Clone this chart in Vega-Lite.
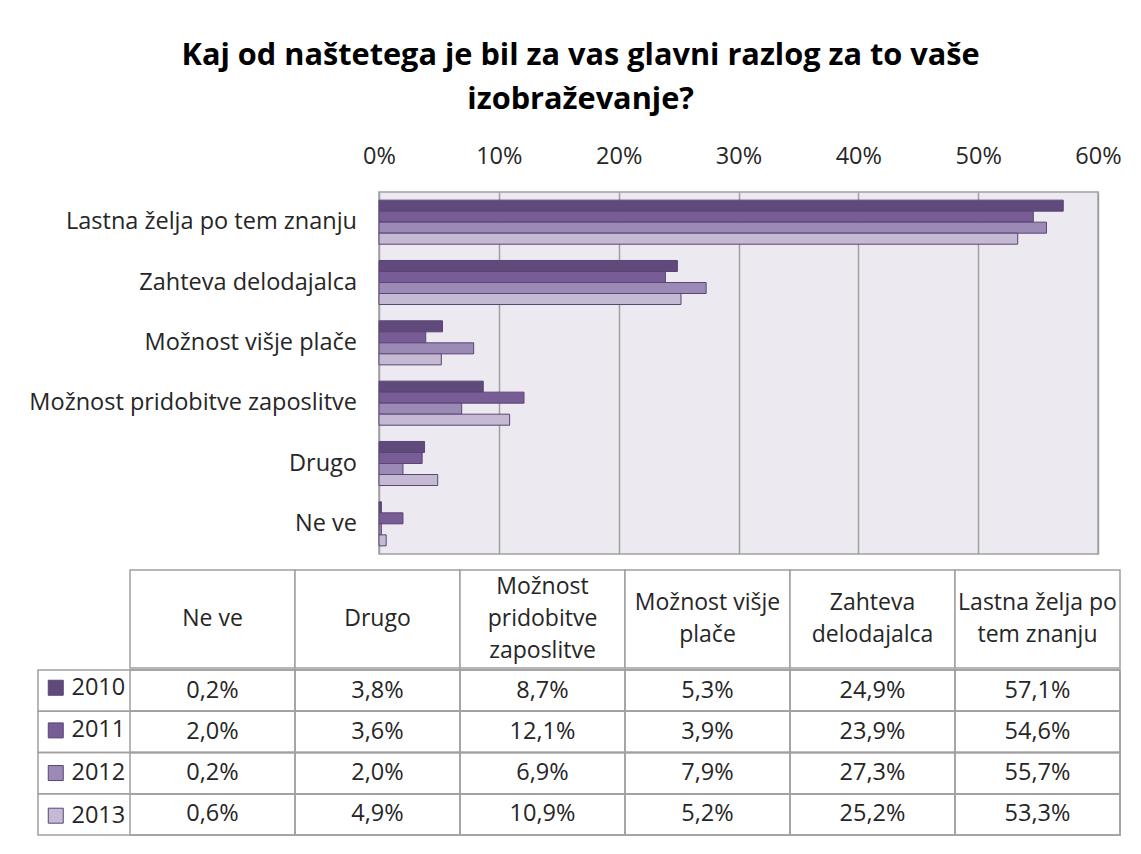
{
  "$schema": "https://vega.github.io/schema/vega-lite/v6.json",
  "background": "white",
  "padding": {"left": 29, "top": 39, "right": 21, "bottom": 21},
  "title": {
    "text": ["Kaj od naštetega je bil za vas glavni razlog za to vaše", "izobraževanje?"],
    "font": "Open Sans",
    "fontSize": 30.7,
    "fontWeight": "bold",
    "color": "#000000",
    "lineHeight": 44,
    "anchor": "middle",
    "offset": 28,
    "dx": 5
  },
  "datasets": {
    "survey": [
      {"category": "Lastna želja po tem znanju", "year": "2010", "value": 0.571},
      {"category": "Lastna želja po tem znanju", "year": "2011", "value": 0.546},
      {"category": "Lastna želja po tem znanju", "year": "2012", "value": 0.557},
      {"category": "Lastna želja po tem znanju", "year": "2013", "value": 0.533},
      {"category": "Zahteva delodajalca", "year": "2010", "value": 0.249},
      {"category": "Zahteva delodajalca", "year": "2011", "value": 0.239},
      {"category": "Zahteva delodajalca", "year": "2012", "value": 0.273},
      {"category": "Zahteva delodajalca", "year": "2013", "value": 0.252},
      {"category": "Možnost višje plače", "year": "2010", "value": 0.053},
      {"category": "Možnost višje plače", "year": "2011", "value": 0.039},
      {"category": "Možnost višje plače", "year": "2012", "value": 0.079},
      {"category": "Možnost višje plače", "year": "2013", "value": 0.052},
      {"category": "Možnost pridobitve zaposlitve", "year": "2010", "value": 0.087},
      {"category": "Možnost pridobitve zaposlitve", "year": "2011", "value": 0.121},
      {"category": "Možnost pridobitve zaposlitve", "year": "2012", "value": 0.069},
      {"category": "Možnost pridobitve zaposlitve", "year": "2013", "value": 0.109},
      {"category": "Drugo", "year": "2010", "value": 0.038},
      {"category": "Drugo", "year": "2011", "value": 0.036},
      {"category": "Drugo", "year": "2012", "value": 0.020},
      {"category": "Drugo", "year": "2013", "value": 0.049},
      {"category": "Ne ve", "year": "2010", "value": 0.002},
      {"category": "Ne ve", "year": "2011", "value": 0.020},
      {"category": "Ne ve", "year": "2012", "value": 0.002},
      {"category": "Ne ve", "year": "2013", "value": 0.006}
    ],
    "headers": [
      {"category": "Ne ve", "header": "Ne ve"},
      {"category": "Drugo", "header": "Drugo"},
      {"category": "Možnost pridobitve zaposlitve", "header": "Možnost\npridobitve\nzaposlitve"},
      {"category": "Možnost višje plače", "header": "Možnost višje\nplače"},
      {"category": "Zahteva delodajalca", "header": "Zahteva\ndelodajalca"},
      {"category": "Lastna želja po tem znanju", "header": "Lastna želja po\ntem znanju"}
    ]
  },
  "spacing": 14,
  "vconcat": [
    {
      "spacing": 0,
      "bounds": "flush",
      "hconcat": [
        {
          "width": 341,
          "height": 362,
          "data": {"name": "survey"},
          "transform": [{"filter": "datum.year == '2010'"}],
          "mark": {"type": "text", "align": "right", "baseline": "middle", "dx": -22, "fontSize": 23.5, "color": "#262626"},
          "encoding": {
            "y": {
              "field": "category", "type": "nominal",
              "sort": ["Lastna želja po tem znanju", "Zahteva delodajalca", "Možnost višje plače", "Možnost pridobitve zaposlitve", "Drugo", "Ne ve"],
              "axis": null,
              "scale": {"paddingInner": 0.27, "paddingOuter": 0.135}
            },
            "x": {"value": "width"},
            "text": {"field": "category"}
          }
        },
        {
          "width": 719,
          "height": 362,
          "view": {"fill": "#ECE9F0", "stroke": "#A0A0A0", "strokeWidth": 1.5},
          "data": {"name": "survey"},
          "mark": {"type": "bar", "stroke": "#5A4575", "strokeWidth": 1},
          "encoding": {
            "y": {
              "field": "category", "type": "nominal",
              "sort": ["Lastna želja po tem znanju", "Zahteva delodajalca", "Možnost višje plače", "Možnost pridobitve zaposlitve", "Drugo", "Ne ve"],
              "axis": null,
              "scale": {"paddingInner": 0.27, "paddingOuter": 0.135}
            },
            "yOffset": {"field": "year", "type": "nominal", "sort": ["2010", "2011", "2012", "2013"]},
            "x": {
              "field": "value", "type": "quantitative",
              "scale": {"domain": [0, 0.6], "nice": false},
              "axis": {
                "orient": "top", "format": "%", "values": [0, 0.1, 0.2, 0.3, 0.4, 0.5, 0.6],
                "grid": true, "gridColor": "#A0A0A0", "gridWidth": 1.5,
                "ticks": false, "domain": false, "title": null, "labelFlush": false,
                "labelFontSize": 23.5, "labelPadding": 24, "labelColor": "#262626"
              }
            },
            "color": {
              "field": "year", "type": "nominal",
              "scale": {"domain": ["2010", "2011", "2012", "2013"], "range": ["#604A7B", "#775C96", "#9B8AB5", "#C5BAD4"]},
              "legend": {
                "orient": "none", "legendX": 6, "legendY": 484, "title": null,
                "symbolType": "square", "symbolSize": 225, "symbolStrokeColor": "#5A4575", "symbolStrokeWidth": 1, "symbolOpacity": 1,
                "labelFontSize": 23.5, "labelColor": "#262626", "labelOffset": 4, "rowPadding": 17.65, "zindex": 1
              }
            }
          }
        }
      ]
    },
    {
      "spacing": 0,
      "vconcat": [
        {
          "width": 1082,
          "height": 98,
          "data": {"name": "headers"},
          "encoding": {
            "x": {
              "field": "category", "type": "nominal",
              "sort": ["Ne ve", "Drugo", "Možnost pridobitve zaposlitve", "Možnost višje plače", "Zahteva delodajalca", "Lastna želja po tem znanju"],
              "axis": null,
              "scale": {"range": [92, 1082], "paddingInner": 0, "paddingOuter": 0}
            }
          },
          "layer": [
            {
              "mark": {"type": "rect", "fill": "white", "stroke": "#A0A0A0", "strokeWidth": 1.5}
            },
            {
              "transform": [{"filter": {"field": "category", "oneOf": ["Ne ve", "Drugo"]}}],
              "mark": {"type": "text", "fontSize": 23, "lineBreak": "\n", "lineHeight": 32, "baseline": "middle", "color": "#262626"},
              "encoding": {"text": {"field": "header"}}
            },
            {
              "transform": [{"filter": {"field": "category", "oneOf": ["Možnost višje plače", "Zahteva delodajalca", "Lastna želja po tem znanju"]}}],
              "mark": {"type": "text", "fontSize": 23, "lineBreak": "\n", "lineHeight": 32, "baseline": "middle", "dy": -16, "color": "#262626"},
              "encoding": {"text": {"field": "header"}}
            },
            {
              "transform": [{"filter": {"field": "category", "oneOf": ["Možnost pridobitve zaposlitve"]}}],
              "mark": {"type": "text", "fontSize": 23, "lineBreak": "\n", "lineHeight": 32, "baseline": "middle", "dy": -32, "color": "#262626"},
              "encoding": {"text": {"field": "header"}}
            }
          ]
        },
        {
          "width": 1082,
          "height": 165,
          "data": {"name": "survey"},
          "layer": [
            {
              "transform": [{"filter": "datum.category == 'Ne ve'"}],
              "mark": {"type": "rect", "fill": "transparent", "stroke": "#A0A0A0", "strokeWidth": 1.5},
              "encoding": {
                "y": {"field": "year", "type": "nominal", "sort": ["2010", "2011", "2012", "2013"], "axis": null, "scale": {"paddingInner": 0, "paddingOuter": 0}}
              }
            },
            {
              "mark": {"type": "rect", "fill": "transparent", "stroke": "#A0A0A0", "strokeWidth": 1.5},
              "encoding": {
                "x": {
                  "field": "category", "type": "nominal",
                  "sort": ["Ne ve", "Drugo", "Možnost pridobitve zaposlitve", "Možnost višje plače", "Zahteva delodajalca", "Lastna želja po tem znanju"],
                  "axis": null,
                  "scale": {"range": [92, 1082], "paddingInner": 0, "paddingOuter": 0}
                },
                "y": {"field": "year", "type": "nominal", "sort": ["2010", "2011", "2012", "2013"], "axis": null, "scale": {"paddingInner": 0, "paddingOuter": 0}}
              }
            },
            {
              "mark": {"type": "text", "fontSize": 23.5, "baseline": "middle", "color": "#262626"},
              "encoding": {
                "x": {
                  "field": "category", "type": "nominal",
                  "sort": ["Ne ve", "Drugo", "Možnost pridobitve zaposlitve", "Možnost višje plače", "Zahteva delodajalca", "Lastna želja po tem znanju"],
                  "axis": null,
                  "scale": {"range": [92, 1082], "paddingInner": 0, "paddingOuter": 0}
                },
                "y": {"field": "year", "type": "nominal", "sort": ["2010", "2011", "2012", "2013"], "axis": null, "scale": {"paddingInner": 0, "paddingOuter": 0}},
                "text": {"field": "value", "type": "quantitative", "format": ".1%"}
              }
            }
          ]
        }
      ]
    }
  ],
  "config": {
    "font": "Open Sans",
    "view": {"stroke": null},
    "locale": {"number": {"decimal": ",", "thousands": ".", "grouping": [3], "currency": ["", " €"]}}
  }
}
